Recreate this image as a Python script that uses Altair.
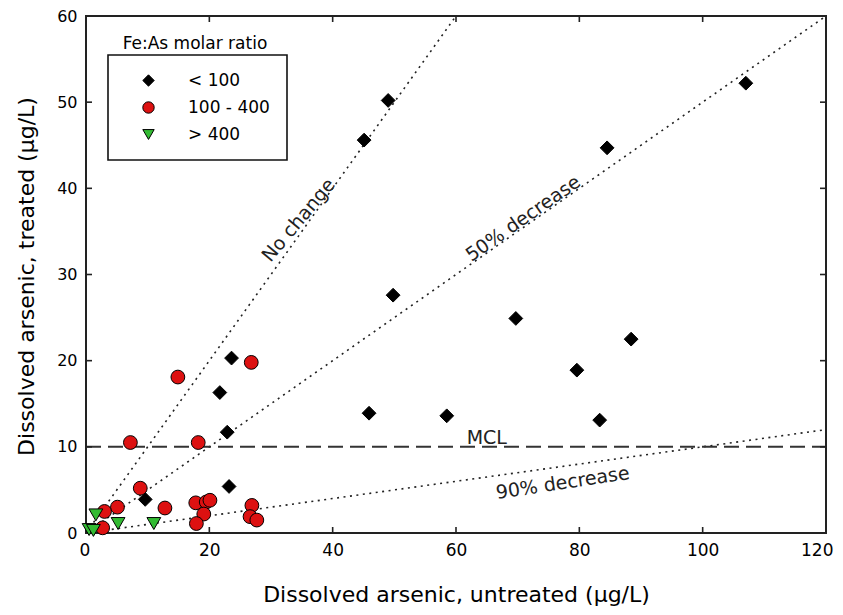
import altair as alt
import pandas as pd

# ---- data ----
groups = ["< 100", "100 - 400", "> 400"]
group_colors = ["#000000", "#dd1111", "#33bb33"]
group_shapes = ["diamond", "circle", "triangle-down"]

black_x = [107.0, 84.5, 49.0, 45.1, 49.8, 69.7, 88.4, 79.6, 45.9, 58.5, 83.3, 23.6, 21.7, 22.9, 23.2, 9.6]
black_y = [52.2, 44.7, 50.2, 45.6, 27.6, 24.9, 22.5, 18.9, 13.9, 13.6, 13.1, 20.3, 16.3, 11.7, 5.4, 3.9]

red_x = [14.9, 26.8, 7.2, 18.2, 8.8, 5.1, 3.0, 2.7, 12.8, 17.8, 19.5, 20.1, 19.1, 17.9, 26.9, 26.6, 27.7]
red_y = [18.1, 19.8, 10.5, 10.5, 5.2, 3.0, 2.5, 0.6, 2.9, 3.5, 3.6, 3.8, 2.2, 1.1, 3.2, 1.9, 1.5]

green_x = [1.6, 5.2, 11.0, 0.5, 1.2]
green_y = [2.1, 1.1, 1.1, 0.4, 0.3]

# reference lines: No change, 50% decrease, 90% decrease
ref_names = ["No change", "50% decrease", "90% decrease"]
ref_x1 = [0, 0, 0]
ref_y1 = [0, 0, 0]
ref_x2 = [60, 120, 120]
ref_y2 = [60, 60, 12]

mcl_value = [10]

ann_labels = ["No change", "50% decrease", "90% decrease", "MCL"]
ann_x = [34.5, 70.9, 77.3, 65.0]
ann_y = [36.3, 36.5, 5.8, 11.0]
ann_angle = [310, 325, 351.4, 0]

x_tick_values = [0, 20, 40, 60, 80, 100, 120]
y_tick_values = [0, 10, 20, 30, 40, 50, 60]

legend_title = "Fe:As molar ratio"
x_title = "Dissolved arsenic, untreated (µg/L)"
y_title = "Dissolved arsenic, treated (µg/L)"

# ---- tables ----
pts = pd.DataFrame({
    "x": black_x + red_x + green_x,
    "y": black_y + red_y + green_y,
    "g": [groups[0]] * len(black_x) + [groups[1]] * len(red_x) + [groups[2]] * len(green_x),
})
refs = pd.DataFrame({"name": ref_names, "x1": ref_x1, "y1": ref_y1, "x2": ref_x2, "y2": ref_y2})
mcl = pd.DataFrame({"y": mcl_value})
ann = pd.DataFrame({"label": ann_labels, "x": ann_x, "y": ann_y, "a": ann_angle})
xt = pd.DataFrame({"v": x_tick_values[1:-1]})
yt = pd.DataFrame({"v": y_tick_values[1:-1]})

W, H = 740, 517
FONT = "DejaVu Sans"
INK = "#222222"
TICK = 6

xs = alt.Scale(domain=[x_tick_values[0], x_tick_values[-1]], nice=False, zero=False)
ys = alt.Scale(domain=[y_tick_values[0], y_tick_values[-1]], nice=False, zero=False)

x_axis = alt.Axis(values=x_tick_values, title=x_title, grid=False, ticks=False, tickSize=0,
                  domain=False, labelPadding=9, labelFontSize=17, titleFontSize=22,
                  labelFlush=True, labelFlushOffset=7,
                  titleFontWeight="normal", titleY=61, titleBaseline="middle")
y_axis = alt.Axis(values=y_tick_values, title=y_title, grid=False, ticks=False, tickSize=0,
                  domain=False, labelPadding=9, labelFontSize=16, titleFontSize=22,
                  titleFontWeight="normal", titleAngle=270, titleX=-60, titleY=260,
                  titleAlign="center", titleBaseline="middle")

ref_layer = alt.Chart(refs).mark_rule(color=INK, strokeWidth=1.6, strokeDash=[2, 4.5]).encode(
    x=alt.X("x1:Q", scale=xs, axis=x_axis),
    y=alt.Y("y1:Q", scale=ys, axis=y_axis),
    x2="x2:Q",
    y2="y2:Q",
)

mcl_layer = alt.Chart(mcl).mark_rule(color="#333333", strokeWidth=2, strokeDash=[15, 7]).encode(
    y=alt.Y("y:Q", scale=ys, axis=y_axis),
    x=alt.value(0),
    x2=alt.value(W),
)

legend = alt.Legend(title=None, orient="none", legendX=22, legendY=39, padding=17,
                    strokeColor="#111111", labelFont=FONT, labelFontSize=17, labelColor="black",
                    labelOffset=31, symbolOffset=15, rowPadding=9, symbolSize=130,
                    symbolStrokeColor="black", symbolStrokeWidth=1)

pts_layer = alt.Chart(pts).mark_point(filled=True, size=190, stroke="black", strokeWidth=1, opacity=1).encode(
    x=alt.X("x:Q", scale=xs, axis=x_axis),
    y=alt.Y("y:Q", scale=ys, axis=y_axis),
    color=alt.Color("g:N", scale=alt.Scale(domain=groups, range=group_colors), legend=legend),
    shape=alt.Shape("g:N", scale=alt.Scale(domain=groups, range=group_shapes), legend=legend),
)

ann_layer = alt.Chart(ann).mark_text(font=FONT, fontSize=19, color=INK, align="center", baseline="middle").encode(
    x=alt.X("x:Q", scale=xs, axis=x_axis),
    y=alt.Y("y:Q", scale=ys, axis=y_axis),
    text="label:N",
    angle=alt.Angle("a:Q", scale=None),
)

leg_title_layer = alt.Chart(pd.DataFrame({"t": [legend_title]})).mark_text(
    font=FONT, fontSize=17, color="black", align="center", baseline="middle"
).encode(x=alt.value(109), y=alt.value(27.5), text="t:N")

tick_style = dict(color=INK, strokeWidth=1.6)
tb = alt.Chart(xt).mark_rule(**tick_style).encode(
    x=alt.X("v:Q", scale=xs, axis=x_axis), y=alt.value(H), y2=alt.value(H - TICK))
tt = alt.Chart(xt).mark_rule(**tick_style).encode(
    x=alt.X("v:Q", scale=xs, axis=x_axis), y=alt.value(0), y2=alt.value(TICK))
tl = alt.Chart(yt).mark_rule(**tick_style).encode(
    y=alt.Y("v:Q", scale=ys, axis=y_axis), x=alt.value(0), x2=alt.value(TICK))
tr = alt.Chart(yt).mark_rule(**tick_style).encode(
    y=alt.Y("v:Q", scale=ys, axis=y_axis), x=alt.value(W), x2=alt.value(W - TICK))

chart = alt.layer(
    ref_layer, mcl_layer, tb, tt, tl, tr, ann_layer, pts_layer, leg_title_layer
).properties(
    width=W, height=H,
    autosize=alt.AutoSizeParams(type="none"),
    padding={"left": 78, "top": 8, "right": 8, "bottom": 74},
    background="white",
).configure_view(
    stroke=INK, strokeWidth=2
).configure_axis(
    labelFont=FONT, titleFont=FONT, labelColor="black", titleColor="black"
).configure_legend(
    strokeWidth=1.6
)

chart.save("out.html", embed_options={"renderer": "svg", "actions": False})
